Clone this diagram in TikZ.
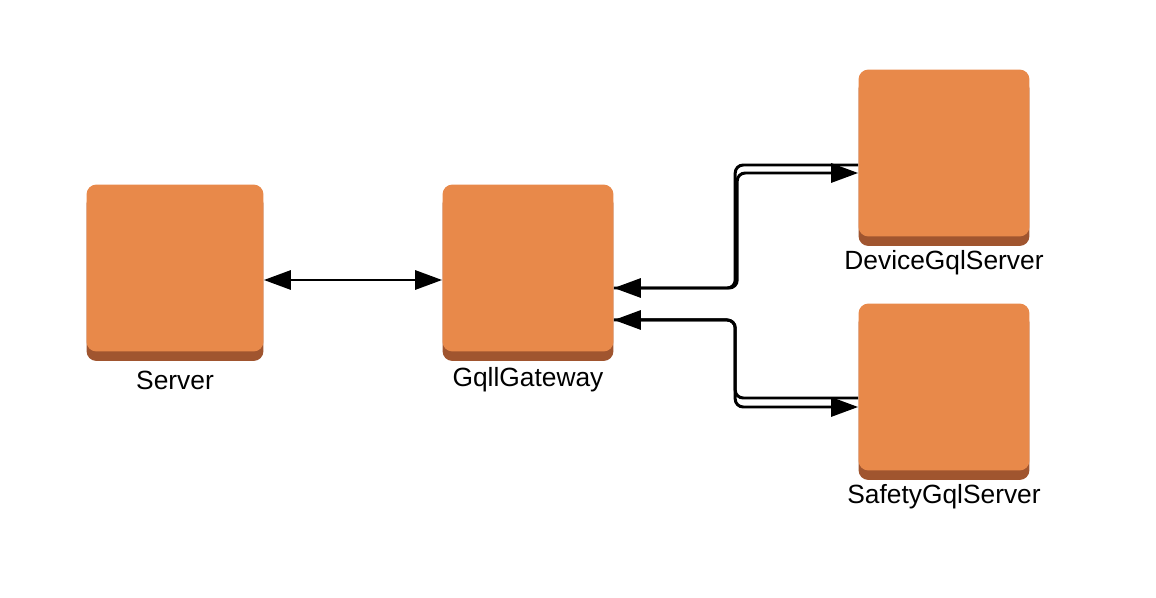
\documentclass[tikz,border=0pt]{standalone}
\usepackage{fontspec}
\setmainfont{Liberation Sans}
\usetikzlibrary{positioning, arrows.meta, shadows}
\definecolor{boxface}{HTML}{E8894A}
\definecolor{boxside}{HTML}{A0552F}

\begin{document}
\begin{tikzpicture}
		[x=0.02cm,y=-0.02cm,>={Triangle[length=0.54cm,width=0.38cm]},
		link/.style={line width=1.7pt,rounded corners=0.16cm},
		awsbox/.style={rectangle,fill=boxface,rounded corners=0.2cm,minimum width=3.42cm,minimum height=3.34cm,
			drop shadow={shadow xshift=0cm,shadow yshift=-0.19cm,fill=boxside,opacity=1}},
		lbl/.style={inner sep=0pt,font=\fontsize{15}{18}\selectfont}]
		\useasboundingbox (0,0) rectangle (1156,598);
		\node[awsbox,minimum width=3.54cm] (srv) at (175, 268) {};
		\node[awsbox] (gw) at (528, 268) {};
		\node[awsbox] (dev) at (944, 153) {};
		\node[awsbox] (saf) at (944, 387) {};
		\node[lbl,below=0.38cm of srv] (srvl) {Server};
		\node[lbl,below=0.3cm of gw] (gwl) {GqllGateway};
		\node[lbl,below=0.26cm of dev] (devl) {DeviceGqlServer};
		\node[lbl,below=0.26cm of saf] (safl) {SafetyGqlServer};
		
		% server <-> gateway
		\draw[link,<->] ([yshift=-0.24cm]srv.east) -- ([yshift=-0.24cm]gw.east -| gw.west);
		% gateway <-> device
		\draw[link,<-] ([yshift=-0.4cm]gw.east) -| ([xshift=-2.46cm,yshift=-0.24cm]dev.west) -- ([yshift=-0.24cm]dev.west);
		\draw[link,->] ([yshift=-0.4cm]gw.east) -| ([xshift=-2.42cm,yshift=-0.4cm]dev.west) -- ([yshift=-0.4cm]dev.west);
		% gateway <-> safety
		\draw[link,<-] ([yshift=-1.04cm]gw.east) -| ([xshift=-2.46cm,yshift=-0.22cm]saf.west) -- ([yshift=-0.22cm]saf.west);
		\draw[link,->] ([yshift=-1.04cm]gw.east) -| ([xshift=-2.46cm,yshift=-0.4cm]saf.west) -- ([yshift=-0.4cm]saf.west);
		
	\end{tikzpicture}
\end{document}
